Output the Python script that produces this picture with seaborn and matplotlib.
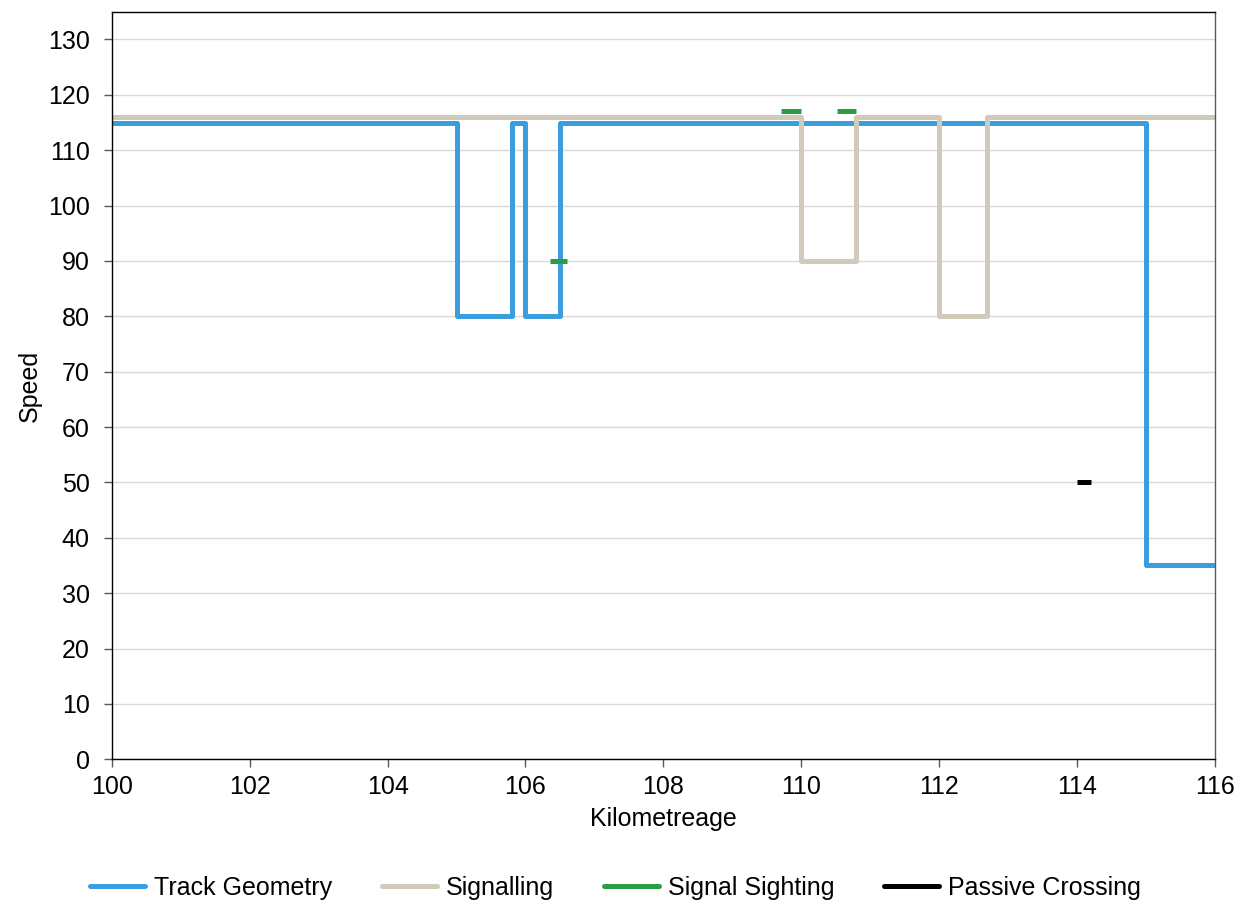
import pandas as pd
import matplotlib.pyplot as plt
import seaborn as sns
from matplotlib.lines import Line2D

# step profiles: speed holds from each km point until the next one
track_km = [100, 105, 105.8, 106, 106.5, 115, 116]
track_speed = [115, 80, 115, 80, 115, 35, 35]

signal_km = [100, 110, 110.8, 112, 112.7, 116]
signal_speed = [116, 90, 116, 80, 116, 116]

# short separate segments
sighting_start = [106.35, 109.7, 110.52]
sighting_end = [106.6, 110.0, 110.8]
sighting_speed = [90, 117, 117]

crossing_start = [114.0]
crossing_end = [114.2]
crossing_speed = [50]

series_names = ["Track Geometry", "Signalling", "Signal Sighting", "Passive Crossing"]
colors = ["#3a9ddd", "#cfcaba", "#2a9d45", "#000000"]


def segments_frame(starts, ends, speeds):
    rows = []
    for i, (a, b, s) in enumerate(zip(starts, ends, speeds)):
        rows.append({"seg": i, "km": a, "speed": s})
        rows.append({"seg": i, "km": b, "speed": s})
    return pd.DataFrame(rows)


sns.set_theme(style="white")
plt.rcParams["font.family"] = ["Liberation Sans", "DejaVu Sans"]
plt.rcParams["text.color"] = "black"
plt.rcParams["axes.labelcolor"] = "black"
plt.rcParams["xtick.color"] = "black"
plt.rcParams["ytick.color"] = "black"

fig, ax = plt.subplots(figsize=(12.51, 9.05), dpi=100)
fig.subplots_adjust(left=0.0895, right=0.971, top=0.987, bottom=0.161)

lw = 3.6
sns.lineplot(x=track_km, y=track_speed, drawstyle="steps-post", estimator=None, sort=False,
             color=colors[0], linewidth=lw, ax=ax)
sns.lineplot(x=signal_km, y=signal_speed, drawstyle="steps-post", estimator=None, sort=False,
             color=colors[1], linewidth=lw, ax=ax)
df_sight = segments_frame(sighting_start, sighting_end, sighting_speed)
sns.lineplot(data=df_sight, x="km", y="speed", units="seg", estimator=None, sort=False,
             color=colors[2], linewidth=lw, solid_capstyle="butt", ax=ax)
df_cross = segments_frame(crossing_start, crossing_end, crossing_speed)
sns.lineplot(data=df_cross, x="km", y="speed", units="seg", estimator=None, sort=False,
             color=colors[3], linewidth=lw, solid_capstyle="butt", ax=ax)

ax.set_xlim(100, 116)
ax.set_ylim(0, 135)
ax.set_xticks(range(100, 117, 2))
ax.set_yticks(range(0, 131, 10))
ax.grid(axis="y", color="#d9d9d9", linewidth=1)
ax.set_axisbelow(True)
for side in ["left", "bottom", "top", "right"]:
    ax.spines[side].set_color("#000000" if side in ("left", "bottom", "top") else "#595959")
    ax.spines[side].set_linewidth(1)
ax.tick_params(axis="both", which="both", direction="out", length=6, width=1,
               color="#595959", labelcolor="black", labelsize=18, left=True, bottom=True)
ax.tick_params(axis="x", pad=5)
ax.tick_params(axis="y", pad=10)
ax.set_xlabel("Kilometreage", fontsize=18, labelpad=6)
ax.set_ylabel("Speed", fontsize=18, labelpad=4)

handles = [Line2D([0], [0], color=c, linewidth=lw) for c in colors]
fig.legend(handles, series_names, loc="center", bbox_to_anchor=(0.492, 0.019), ncol=4,
           frameon=False, fontsize=18, handlelength=2.2, handletextpad=0.35,
           columnspacing=2.0)

fig.savefig("out.png", dpi=100)
